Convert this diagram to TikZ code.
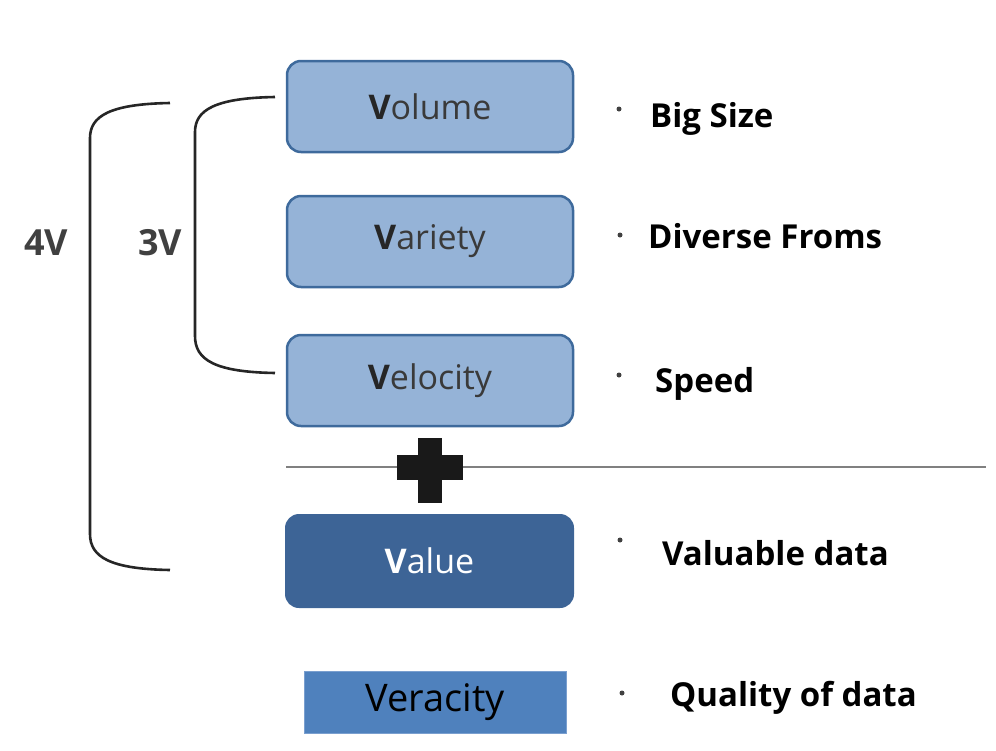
\documentclass[tikz,border=0pt]{standalone}
\usepackage{fontspec}
\setmainfont{Open Sans}
\begin{document}
\begin{tikzpicture}[x=1pt,y=-1pt,
  lightbox/.style={draw=boxedge,line width=2.5pt,fill=boxfill,rounded corners=14pt,minimum width=286pt,minimum height=91pt,inner sep=0pt,font=\fontsize{34}{38}\selectfont,text=txtgray},
  darkbox/.style={fill=valfill,rounded corners=14pt,minimum width=289pt,minimum height=94pt,inner sep=0pt,font=\fontsize{34}{38}\selectfont,text=white},
  verbox/.style={draw=veredge,line width=1pt,fill=verfill,minimum width=262pt,minimum height=62pt,inner sep=0pt,font=\fontsize{38}{42}\selectfont,text=black},
  desc/.style={anchor=base west,font=\bfseries\fontsize{33}{37}\selectfont,inner sep=0pt},
  bul/.style={circle,fill=black!75,inner sep=0pt,minimum size=5pt},
  brack/.style={line width=2.6pt,draw=black!85},
  vlab/.style={font=\bfseries\fontsize{36}{40}\selectfont,text=black!75}
]
\definecolor{boxfill}{HTML}{95B3D7}
\definecolor{boxedge}{HTML}{3E6A9C}
\definecolor{valfill}{HTML}{3D6496}
\definecolor{verfill}{HTML}{4F81BD}
\definecolor{veredge}{HTML}{7A9FCF}
\definecolor{txtgray}{HTML}{3A3A3A}
\useasboundingbox (0,0) rectangle (996,750);

\node[lightbox] (vol) at (430,106.5) {\textbf{\color{black!85}V}olume};
\node[lightbox] (var) at (430,241.5) {\textbf{\color{black!85}V}ariety};
\node[lightbox] (vel) at (430,380.5) {\textbf{\color{black!85}V}elocity};
\node[darkbox] (val) at (429.5,561) {\textbf{V}alue};
\node[verbox] (ver) at (435,702) {Veracity};

% separator line and plus
\coordinate (l1) at (286,467);
\coordinate (l2) at (986,467);
\draw[line width=1.6pt,draw=black!50] (l1) -- (l2);
\fill[black!90] (418,438) rectangle (442,503);
\fill[black!90] (397,455) rectangle (463,480);

% brackets
\coordinate (b3t) at (275,97);
\coordinate (b3b) at (275,373);
\draw[brack] (b3t) .. controls (215,98) and (195,110) .. (195,132) -- (195,336) .. controls (195,360) and (215,372) .. (b3b);
\coordinate (b4t) at (170,103);
\coordinate (b4b) at (170,570);
\draw[brack] (b4t) .. controls (110,104) and (90,116) .. (90,138) -- (90,534) .. controls (90,557) and (110,569) .. (b4b);
\node[vlab] (v4) at (46,243) {4V};
\node[vlab] (v3) at (160,243) {3V};

% descriptions
\node[bul] (d1b) at (619,109) {};
\node[desc] (d1) at (650,127) {Big Size};
\node[bul] (d2b) at (620,235) {};
\node[desc] (d2) at (648,248) {Diverse Froms};
\node[bul] (d3b) at (619,375) {};
\node[desc] (d3) at (655,392) {Speed};
\node[bul] (d4b) at (620,540) {};
\node[desc] (d4) at (662,565) {Valuable data};
\node[bul] (d5b) at (622,693) {};
\node[desc] (d5) at (670,706) {Quality of data};
\end{tikzpicture}
\end{document}
